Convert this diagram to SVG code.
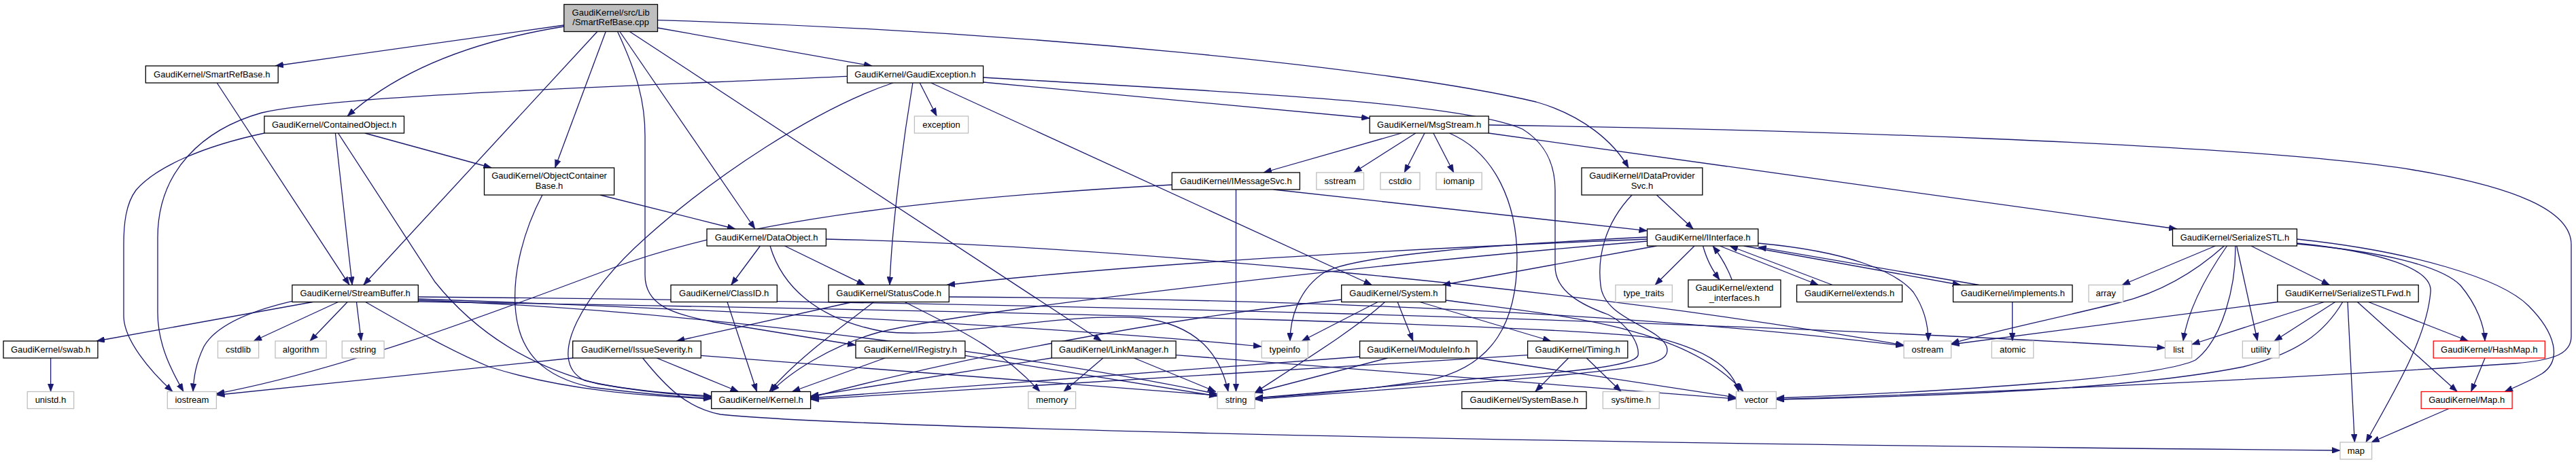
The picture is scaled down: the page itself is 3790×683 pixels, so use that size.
<svg xmlns="http://www.w3.org/2000/svg" width="3790" height="683" viewBox="0 0 3790 683">
<style>
.bg{fill:#ffffff}
.n rect{fill:#ffffff;stroke:#000000;stroke-width:1.3}
.g rect{fill:#ffffff;stroke:#bfbfbf;stroke-width:1.3}
.r rect{fill:#ffffff;stroke:#ff0000;stroke-width:1.3}
.root rect{fill:#bfbfbf;stroke:#000000;stroke-width:1.3}
text{font-family:"Liberation Sans",Arial,Helvetica,sans-serif;font-size:13px;text-anchor:middle;fill:#000000}
#edges path{fill:none;stroke:#191970;stroke-width:1.3;marker-end:url(#a)}
</style>
<defs>
<marker id="a" markerUnits="userSpaceOnUse" markerWidth="12" markerHeight="9" refX="12" refY="4.5" orient="auto">
<path d="M0,0 L12,4.5 L0,9 z" fill="#191970" stroke="#191970" stroke-width="0.5"/>
</marker>
</defs>
<rect class="bg" x="0" y="0" width="3790" height="683"/>
<g id="edges">
<path d="M829.8,37 L405,97"/>
<path d="M829.8,39 C700,60 590,100 511,171"/>
<path d="M878.8,46.5 L534.8,419.5"/>
<path d="M891.2,46.5 L816.6,247"/>
<path d="M908.6,46.5 C938,110 949,150 949,200 L949,405 C949,450 990,462 1050,474 L1259,508"/>
<path d="M911.9,46.5 L1110.9,337"/>
<path d="M926.4,46.5 L1620.7,502"/>
<path d="M967.5,41 L1283,97"/>
<path d="M967.5,29.6 C1500,45 2050,100 2260,150 C2330,170 2375,210 2396,247"/>
<path d="M319.2,122 L514.1,419.5"/>
<path d="M1246.5,112.4 C900,128 500,140 385,166 C300,190 232,250 232,350 L232,460 C232,510 255,550 270,576.5"/>
<path d="M1313.9,122 C1200,160 1050,260 950,350 C860,430 800,530 860,560 C920,575 1000,580 1046.7,583"/>
<path d="M1342.9,122 C1330,200 1312,330 1309,419.5"/>
<path d="M1353.3,122 L1378.2,171"/>
<path d="M1369.9,122 L2018.5,419.5"/>
<path d="M1446.6,114 C1800,135 2150,150 2240,190 C2280,215 2288,250 2288,280 L2288,392 C2288,430 2330,450 2366,463 C2400,480 2412,510 2410,523 C2405,540 2300,548 2200,555 L1846.2,586"/>
<path d="M1446.6,121 L2015.2,174"/>
<path d="M388.9,196 C300,215 230,245 200,280 C185,300 182,330 182,360 L182,465 C182,500 220,545 254,576.5"/>
<path d="M493.4,196 L518.2,419.5"/>
<path d="M497.5,196 L640,415 C700,490 780,540 880,565 C950,578 1010,582 1046.7,584"/>
<path d="M536.9,196 L723.3,247"/>
<path d="M797.9,287 C770,340 755,400 758,450 C762,520 800,555 870,570 C950,580 1010,585 1046.7,586"/>
<path d="M882.9,287 L1081.9,337"/>
<path d="M460.2,444.5 L142,502"/>
<path d="M429.9,443.4 C380,455 320,475 300,510 C288,535 285,555 284,576.5"/>
<path d="M497.5,444.5 L373,502"/>
<path d="M511.2,444.5 L456,502"/>
<path d="M524.5,444.5 L531.5,502"/>
<path d="M537.7,444.5 C600,480 660,515 720,540 C830,575 950,583 1046.7,587"/>
<path d="M615.3,440 C900,450 1500,475 1856,510"/>
<path d="M615.3,437 C1500,445 2500,470 3185.5,512"/>
<path d="M615.3,442 C1000,455 1500,520 1791,580"/>
<path d="M615.3,444 C1600,460 2350,480 2450,500 C2520,520 2550,545 2558,576.5"/>
<path d="M1118.4,362 L1075.7,419.5"/>
<path d="M1154.5,362 L1272.6,419.5"/>
<path d="M1133,362 C1150,420 1200,470 1300,488 C1400,500 1550,460 1680,468 C1760,478 1795,520 1807,576.5"/>
<path d="M1215.4,352 C1600,360 2300,420 2801,508"/>
<path d="M1254.5,444.5 L995.4,502"/>
<path d="M1285.6,444.5 C1240,480 1170,530 1132,576.5"/>
<path d="M1331.2,444.5 C1400,480 1470,510 1530,576.5"/>
<path d="M1396.3,437 C1900,440 2400,460 2801,509"/>
<path d="M842.7,527 L318.4,581.5"/>
<path d="M966.3,527 L1086.6,576.5"/>
<path d="M945.6,527 C980,570 1010,600 1060,610 C1200,625 2000,650 3443,663"/>
<path d="M1031.3,523.3 L1791,582"/>
<path d="M1302,527 L1165.3,576.5"/>
<path d="M1419.9,523.3 L1791,583"/>
<path d="M1547.3,527 L1192.6,583"/>
<path d="M1622.9,527 L1564.9,576.5"/>
<path d="M1668.5,527 L1788.8,576.5"/>
<path d="M1730.1,522.6 L2554.4,587"/>
<path d="M1724.3,272 C1400,290 1100,320 900,395 C700,470 500,545 318.4,579.5"/>
<path d="M1818.5,279 L1818.5,576.5"/>
<path d="M1873.6,279 L2423.5,339.7"/>
<path d="M2062,196 L1859,254"/>
<path d="M2082.8,196 L1991.6,254"/>
<path d="M2096,196 L2066.2,254"/>
<path d="M2108.9,196 L2138.8,254"/>
<path d="M2132.5,196 C2200,225 2232,300 2232,380 C2232,470 2200,540 2100,560 C2000,575 1900,583 1846.2,586"/>
<path d="M2190.2,184 C2600,190 3300,210 3550,250 C3700,275 3783,310 3783,360 L3783,495 C3783,520 3760,530 3700,535 C3400,555 3000,575 2613.3,588"/>
<path d="M2190.2,196 L3203,337"/>
<path d="M2437.3,287 L2491.2,337"/>
<path d="M2401,287 C2360,330 2350,380 2355,420 C2360,470 2440,480 2452,510 C2460,535 2420,540 2300,552 C2100,570 1950,580 1846.2,588"/>
<path d="M2423.5,352 C2100,365 1700,385 1393,419.5"/>
<path d="M2423.5,355 C2000,390 1400,460 1290,490 C1220,510 1160,550 1135,576.5"/>
<path d="M2423.5,349 C2200,360 2000,375 1950,400 C1910,425 1898,470 1898,502"/>
<path d="M2437.3,362 L2122.2,419.5"/>
<path d="M2493,362 L2435,419.5"/>
<path d="M2505.5,362 C2512,385 2520,398 2530,412"/>
<path d="M2548.2,412 C2540,390 2530,375 2520,362"/>
<path d="M2530.3,362 L2675.4,419.5"/>
<path d="M2696.2,419.5 L2544.8,362"/>
<path d="M2565.6,362 L2884.8,419.5"/>
<path d="M2911.8,419.5 L2586.7,363.7"/>
<path d="M2586.7,358 C2720,370 2790,400 2815,430 C2832,455 2837,480 2837,502"/>
<path d="M1973.7,441 C1700,470 1400,530 1192.6,585"/>
<path d="M2027.1,444.5 L1915.2,502"/>
<path d="M2037.5,444.5 C2000,480 1920,530 1846.2,578"/>
<path d="M2056.2,444.5 L2079,502"/>
<path d="M2089,444.5 L2281.8,502"/>
<path d="M2127.1,442 C2300,465 2480,480 2565,576.5"/>
<path d="M2000.6,525 L1192.6,586"/>
<path d="M2041.7,527 L1846.2,578"/>
<path d="M2173.1,527 L2554.4,585"/>
<path d="M2247.6,522.7 L1192.6,588"/>
<path d="M2307.7,527 L2258.8,576.5"/>
<path d="M2334.2,527 L2385.2,576.5"/>
<path d="M2960.7,444.5 L2960.7,502"/>
<path d="M3259.4,362 L3122,419.5"/>
<path d="M3272.4,362 C3230,400 3180,430 3120,445 C3020,470 2920,490 2870.7,506"/>
<path d="M3288.8,362 C3290,420 3270,500 3230,530 C3180,555 2900,575 2613.3,586"/>
<path d="M3276.5,362 C3250,400 3220,450 3212,502"/>
<path d="M3290.8,362 L3321.4,502"/>
<path d="M3312,362 L3427.6,419.5"/>
<path d="M3379.4,358 C3500,370 3580,395 3576,430 C3570,500 3520,580 3481,651"/>
<path d="M3379.4,359 C3500,370 3590,390 3620,420 C3645,450 3655,480 3656,502"/>
<path d="M3379.4,352 C3550,370 3680,410 3720,450 C3760,490 3770,530 3740,550 C3720,562 3700,570 3685,576.5"/>
<path d="M3350.8,444.5 L2870.7,507"/>
<path d="M3419.4,444.5 L3224.7,507"/>
<path d="M3435.7,444.5 L3346,502"/>
<path d="M3446.7,444.5 C3420,490 3380,520 3300,540 C3150,570 2900,582 2613.3,588"/>
<path d="M3454,444.5 L3464.3,651"/>
<path d="M3468.4,444.5 L3615.3,576.5"/>
<path d="M3484.7,444.5 L3631.6,502"/>
<path d="M3656.1,527 L3635.7,576.5"/>
<path d="M3603,601.5 L3488.8,651"/>
<path d="M1070,444.5 L1113.5,576.5"/>
<path d="M74.6,527 L74.6,576.5"/>
</g>
<g id="node_root" class="root"><rect x="829.8" y="6.5" width="137.7" height="40"/><text x="898.65" y="22.5">GaudiKernel/src/Lib</text><text x="898.65" y="37">/SmartRefBase.cpp</text></g>
<g id="node_SmartRefBase" class="n"><rect x="214.3" y="97" width="194.9" height="25"/><text x="311.75" y="113.5">GaudiKernel/SmartRefBase.h</text></g>
<g id="node_GaudiException" class="n"><rect x="1246.5" y="97" width="200.1" height="25"/><text x="1346.55" y="113.5">GaudiKernel/GaudiException.h</text></g>
<g id="node_ContainedObject" class="n"><rect x="388.9" y="171" width="205.6" height="25"/><text x="491.7" y="187.5">GaudiKernel/ContainedObject.h</text></g>
<g id="node_exception" class="g"><rect x="1345.4" y="171" width="79.2" height="25"/><text x="1385" y="187.5">exception</text></g>
<g id="node_MsgStream" class="n"><rect x="2015.2" y="171" width="175" height="25"/><text x="2102.7" y="187.5">GaudiKernel/MsgStream.h</text></g>
<g id="node_ObjectContainerBase" class="n"><rect x="712.5" y="247" width="191.1" height="40"/><text x="808.05" y="263">GaudiKernel/ObjectContainer</text><text x="808.05" y="277.5">Base.h</text></g>
<g id="node_IMessageSvc" class="n"><rect x="1724.3" y="254" width="188.1" height="25"/><text x="1818.35" y="270.5">GaudiKernel/IMessageSvc.h</text></g>
<g id="node_sstream" class="g"><rect x="1936.8" y="254" width="69.7" height="25"/><text x="1971.65" y="270.5">sstream</text></g>
<g id="node_cstdio" class="g"><rect x="2031" y="254" width="58" height="25"/><text x="2060" y="270.5">cstdio</text></g>
<g id="node_iomanip" class="g"><rect x="2113" y="254" width="67.2" height="25"/><text x="2146.6" y="270.5">iomanip</text></g>
<g id="node_IDataProviderSvc" class="n"><rect x="2327" y="247" width="177.8" height="40"/><text x="2415.9" y="263">GaudiKernel/IDataProvider</text><text x="2415.9" y="277.5">Svc.h</text></g>
<g id="node_DataObject" class="n"><rect x="1040" y="337" width="175.4" height="25"/><text x="1127.7" y="353.5">GaudiKernel/DataObject.h</text></g>
<g id="node_IInterface" class="n"><rect x="2423.5" y="337" width="163.2" height="25"/><text x="2505.1" y="353.5">GaudiKernel/IInterface.h</text></g>
<g id="node_SerializeSTL" class="n"><rect x="3196.5" y="337" width="182.9" height="25"/><text x="3287.95" y="353.5">GaudiKernel/SerializeSTL.h</text></g>
<g id="node_StreamBuffer" class="n"><rect x="429.9" y="419.5" width="185.4" height="25"/><text x="522.6" y="436">GaudiKernel/StreamBuffer.h</text></g>
<g id="node_ClassID" class="n"><rect x="987" y="419.5" width="156.3" height="25"/><text x="1065.15" y="436">GaudiKernel/ClassID.h</text></g>
<g id="node_StatusCode" class="n"><rect x="1219" y="419.5" width="177.3" height="25"/><text x="1307.65" y="436">GaudiKernel/StatusCode.h</text></g>
<g id="node_System" class="n"><rect x="1973.7" y="419.5" width="153.4" height="25"/><text x="2050.4" y="436">GaudiKernel/System.h</text></g>
<g id="node_type_traits" class="g"><rect x="2376.9" y="419.5" width="83.4" height="25"/><text x="2418.6" y="436">type_traits</text></g>
<g id="node_extend_interfaces" class="n"><rect x="2483.9" y="412" width="136" height="40"/><text x="2551.9" y="428">GaudiKernel/extend</text><text x="2551.9" y="442.5">_interfaces.h</text></g>
<g id="node_extends" class="n"><rect x="2643.5" y="419.5" width="155.1" height="25"/><text x="2721.05" y="436">GaudiKernel/extends.h</text></g>
<g id="node_implements" class="n"><rect x="2873.6" y="419.5" width="175.4" height="25"/><text x="2961.3" y="436">GaudiKernel/implements.h</text></g>
<g id="node_array" class="g"><rect x="3073" y="419.5" width="50.6" height="25"/><text x="3098.3" y="436">array</text></g>
<g id="node_SerializeSTLFwd" class="n"><rect x="3350.8" y="419.5" width="207.4" height="25"/><text x="3454.5" y="436">GaudiKernel/SerializeSTLFwd.h</text></g>
<g id="node_swab" class="n"><rect x="5" y="502" width="138.9" height="25"/><text x="74.45" y="518.5">GaudiKernel/swab.h</text></g>
<g id="node_cstdlib" class="g"><rect x="320.5" y="502" width="60.1" height="25"/><text x="350.55" y="518.5">cstdlib</text></g>
<g id="node_algorithm" class="g"><rect x="405" y="502" width="75.1" height="25"/><text x="442.55" y="518.5">algorithm</text></g>
<g id="node_cstring" class="g"><rect x="503.3" y="502" width="61.8" height="25"/><text x="534.2" y="518.5">cstring</text></g>
<g id="node_IssueSeverity" class="n"><rect x="842.7" y="502" width="188.6" height="25"/><text x="937" y="518.5">GaudiKernel/IssueSeverity.h</text></g>
<g id="node_IRegistry" class="n"><rect x="1259" y="502" width="160.9" height="25"/><text x="1339.45" y="518.5">GaudiKernel/IRegistry.h</text></g>
<g id="node_LinkManager" class="n"><rect x="1547.3" y="502" width="182.8" height="25"/><text x="1638.7" y="518.5">GaudiKernel/LinkManager.h</text></g>
<g id="node_typeinfo" class="g"><rect x="1856.3" y="502" width="68" height="25"/><text x="1890.3" y="518.5">typeinfo</text></g>
<g id="node_ModuleInfo" class="n"><rect x="2000.6" y="502" width="172.5" height="25"/><text x="2086.85" y="518.5">GaudiKernel/ModuleInfo.h</text></g>
<g id="node_Timing" class="n"><rect x="2247.6" y="502" width="147.2" height="25"/><text x="2321.2" y="518.5">GaudiKernel/Timing.h</text></g>
<g id="node_ostream" class="g"><rect x="2801.1" y="502" width="69.6" height="25"/><text x="2835.9" y="518.5">ostream</text></g>
<g id="node_atomic" class="g"><rect x="2930.4" y="502" width="61.4" height="25"/><text x="2961.1" y="518.5">atomic</text></g>
<g id="node_list" class="g"><rect x="3185.5" y="502" width="39.2" height="25"/><text x="3205.1" y="518.5">list</text></g>
<g id="node_utility" class="g"><rect x="3299.4" y="502" width="53.9" height="25"/><text x="3326.35" y="518.5">utility</text></g>
<g id="node_HashMap" class="r"><rect x="3580.2" y="502" width="164.1" height="25"/><text x="3662.25" y="518.5">GaudiKernel/HashMap.h</text></g>
<g id="node_unistd" class="g"><rect x="40.2" y="576.5" width="68.4" height="25"/><text x="74.4" y="593">unistd.h</text></g>
<g id="node_iostream" class="g"><rect x="246.3" y="576.5" width="72.1" height="25"/><text x="282.35" y="593">iostream</text></g>
<g id="node_Kernel" class="n"><rect x="1046.7" y="576.5" width="145.9" height="25"/><text x="1119.65" y="593">GaudiKernel/Kernel.h</text></g>
<g id="node_memory" class="g"><rect x="1512.9" y="576.5" width="69.7" height="25"/><text x="1547.75" y="593">memory</text></g>
<g id="node_string" class="g"><rect x="1791.1" y="576.5" width="55.1" height="25"/><text x="1818.65" y="593">string</text></g>
<g id="node_SystemBase" class="n"><rect x="2150.8" y="576.5" width="183.2" height="25"/><text x="2242.4" y="593">GaudiKernel/SystemBase.h</text></g>
<g id="node_systime" class="g"><rect x="2358.3" y="576.5" width="82.9" height="25"/><text x="2399.75" y="593">sys/time.h</text></g>
<g id="node_vector" class="g"><rect x="2554.4" y="576.5" width="58.9" height="25"/><text x="2583.85" y="593">vector</text></g>
<g id="node_Map" class="r"><rect x="3562.2" y="576.5" width="133.9" height="25"/><text x="3629.15" y="593">GaudiKernel/Map.h</text></g>
<g id="node_map" class="g"><rect x="3443" y="651" width="46.6" height="25"/><text x="3466.3" y="667.5">map</text></g>
</svg>
